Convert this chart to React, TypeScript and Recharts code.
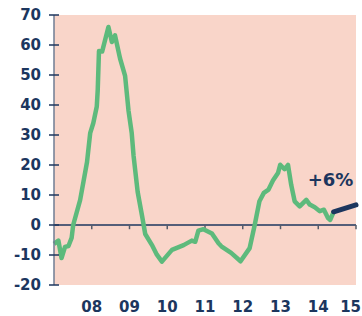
import { LineChart, Line, XAxis, YAxis, CartesianGrid, ReferenceLine, ReferenceDot } from "recharts";

// months since Jan 2007, year-on-year change in %
const historyMonths = [
  0, 1.4, 2.4, 3.5, 4.6, 5.6, 6.1, 8.3, 10.5, 11.5, 12.5, 13.6, 13.9, 14.3, 15.3, 17.3, 18.4, 19.4, 21.0,
  22.6, 23.7, 24.7, 25.3, 26.6, 28.0, 29.0, 31.1, 32.7, 34.3, 37.5, 41.2, 43.8, 44.9, 45.9, 47.5, 50.2,
  52.3, 53.2, 56.3, 59.3, 62.2, 63.8, 65.3, 66.7, 68.2, 69.6, 71.2, 71.9, 73.3, 74.4, 75.4, 76.5, 78.1,
  80.2, 81.3, 82.9, 84.5, 85.8, 87.1, 87.8, 88.9,
];
const historyValues = [
  -6.3, -5.2, -11, -7.3, -7, -4.3, 0, 8.3, 21, 30.6, 34, 39.5, 45, 58, 57.8, 66, 61, 63.2, 55.5,
  49.7, 38, 30.7, 23, 11, 3, -3, -6.6, -9.9, -12.2, -8.3, -6.7, -5.2, -5.6, -1.9, -1.4, -2.8,
  -6.1, -7.1, -9.3, -12.1, -7.7, 0, 7.9, 10.7, 11.8, 14.8, 17.3, 20.1, 18.6, 20, 13.4, 7.9, 6.2,
  8.4, 6.8, 5.9, 4.6, 5.1, 2.3, 1.7, 4.4,
];
const forecastMonths = [88.9, 96];
const forecastValues = [4.4, 6.7];
const forecastLabel = "+6%";

const tickMonths = [12, 24, 36, 48, 60, 72, 84, 96];
const tickLabels = ["08", "09", "10", "11", "12", "13", "14", "15"];
const yTicks = [-20, -10, 0, 10, 20, 30, 40, 50, 60, 70];

const history = historyMonths.map((m, i) => ({ m, v: historyValues[i] }));
const forecast = forecastMonths.map((m, i) => ({ m, v: forecastValues[i] }));

const NAVY = "#1c365e";
const FONT = "DejaVu Sans";

// eslint-disable-next-line @typescript-eslint/no-explicit-any
const YTick = ({ x, y, payload }: any) => (
  <g>
    <line x1={x + 8} x2={x + 18} y1={y} y2={y} stroke={NAVY} strokeWidth={1.5} />
    <text x={x} y={y} dy="0.355em" textAnchor="end" fill={NAVY} fontSize={15} fontWeight={700} fontFamily={FONT}>
      {payload.value}
    </text>
  </g>
);

// last label sits against the right edge, keep it inside
// eslint-disable-next-line @typescript-eslint/no-explicit-any
const XTick = ({ x, y, payload }: any) => {
  const last = payload.value === tickMonths[tickMonths.length - 1];
  return (
    <text
      x={last ? x + 5 : x}
      y={y}
      dy="0.71em"
      textAnchor={last ? "end" : "middle"}
      fill={NAVY}
      fontSize={15}
      fontWeight={700}
      fontFamily={FONT}
    >
      {tickLabels[tickMonths.indexOf(payload.value)]}
    </text>
  );
};

export default function App() {
  return (
    <div style={{ position: "absolute", left: 0, top: 0 }}>
      <LineChart width={362} height={316} margin={{ top: 15, right: 6, left: 0, bottom: 0 }}>
        <CartesianGrid horizontal={false} vertical={false} fill="#f9d5c9" />
        <XAxis
          type="number"
          dataKey="m"
          domain={[0, 96]}
          ticks={tickMonths}
          interval={0}
          axisLine={false}
          tickLine={false}
          tickSize={0}
          tickMargin={16}
          height={31}
          tick={<XTick />}
        />
        <YAxis
          type="number"
          domain={[-20, 70]}
          ticks={yTicks}
          interval={0}
          width={54}
          axisLine={{ stroke: "#6f7c93", strokeWidth: 1.5 }}
          tickLine={false}
          tickSize={5}
          tickMargin={8}
          tick={<YTick />}
        />
        <ReferenceLine y={0} stroke={NAVY} strokeWidth={1.5} />
        {tickMonths.map((m) => (
          <ReferenceLine
            key={m}
            segment={[
              { x: m, y: 0 },
              { x: m, y: -1.4 },
            ]}
            stroke="#555c6a"
            strokeWidth={1.5}
          />
        ))}
        <Line
          data={history}
          dataKey="v"
          type="linear"
          stroke="#5dba7c"
          strokeWidth={4.5}
          strokeLinejoin="round"
          dot={false}
          isAnimationActive={false}
        />
        <Line
          data={forecast}
          dataKey="v"
          type="linear"
          stroke={NAVY}
          strokeWidth={5}
          strokeLinecap="round"
          dot={false}
          isAnimationActive={false}
        />
        <ReferenceDot
          x={87.9}
          y={15.2}
          r={0}
          fill="none"
          stroke="none"
          label={{ value: forecastLabel, position: "center", fill: NAVY, fontSize: 18, fontWeight: 700, fontFamily: FONT }}
        />
      </LineChart>
    </div>
  );
}
